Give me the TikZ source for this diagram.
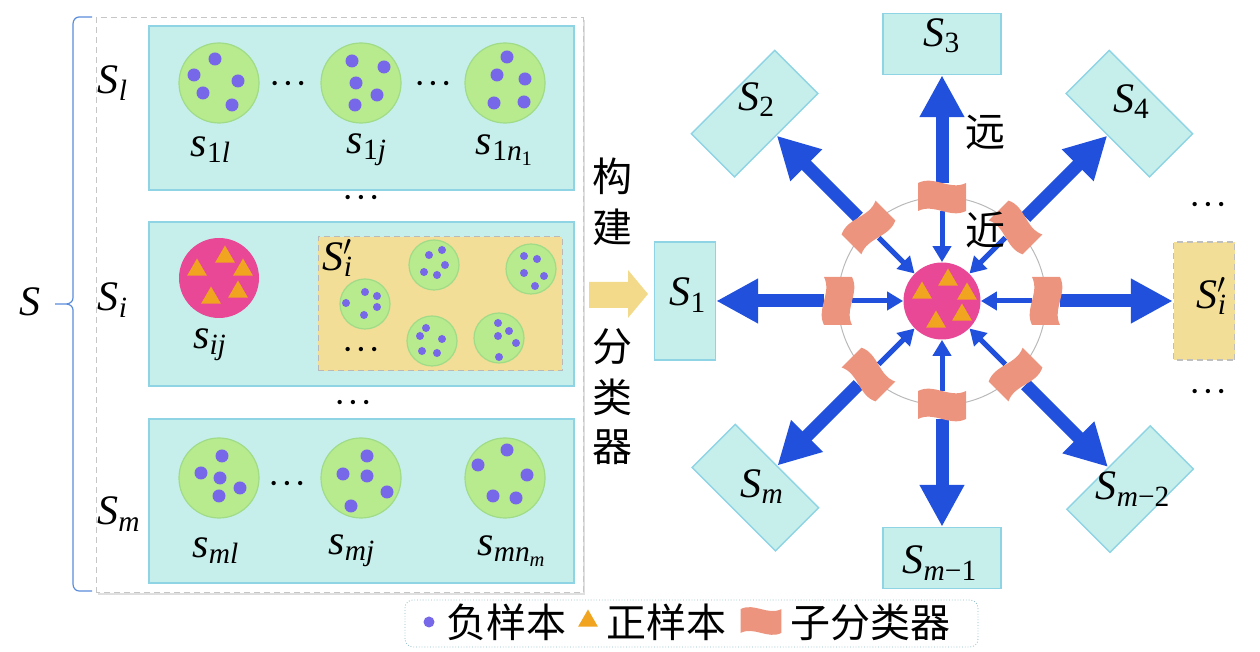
\documentclass[tikz,border=0pt]{standalone}
\usepackage{fontspec}
\setmainfont{Liberation Serif}
\newfontfamily\cjk{Noto Sans CJK SC}
\usetikzlibrary{arrows.meta,shapes.geometric,shadows}

\definecolor{colorisBox}{RGB}{198,239,236}
\definecolor{colorisBoxL}{RGB}{142,212,228}
\definecolor{colorisG}{RGB}{184,234,142}
\definecolor{colorisGL}{RGB}{160,220,136}
\definecolor{colorisN}{RGB}{118,104,232}
\definecolor{colorisP}{RGB}{232,72,150}
\definecolor{colorisT}{RGB}{240,164,32}
\definecolor{colorisY}{RGB}{242,222,150}
\definecolor{colorisC}{RGB}{236,148,126}
\definecolor{colorisA}{RGB}{32,80,220}
\definecolor{colorisBr}{RGB}{90,140,220}
\definecolor{colorisArr}{RGB}{243,217,138}

\newcommand{\sv}[2]{\textit{#1}\textsubscript{#2}}
\newcommand{\svp}[1]{\textit{S}\rlap{$^{\prime}$}\textsubscript{\textit{#1}}}

\begin{document}
\begin{tikzpicture}[x=0.5pt, y=0.5pt,
  grp/.style={draw=colorisBoxL, fill=colorisBox, line width=0.7pt, inner sep=0},
  rbox/.style={grp, minimum width=59pt, minimum height=30.5pt},
  lab/.style={font=\fontsize{21pt}{24pt}\selectfont, inner sep=0},
  han/.style={font=\cjk\fontsize{20pt}{22pt}\selectfont, inner sep=0},
  ell/.style={font=\fontsize{9pt}{9pt}\selectfont, inner sep=0},
  neg/.style={circle, fill=colorisG, draw=colorisGL, line width=0.6pt, minimum size=40pt, inner sep=0},
  negs/.style={neg, minimum size=25pt},
  posg/.style={circle, fill=colorisP, minimum size=40pt, inner sep=0},
  tri/.style={regular polygon, regular polygon sides=3, fill=colorisT, minimum size=11.5pt, inner sep=0},
  subc/.style={minimum width=24pt, minimum height=14pt, inner sep=0},
  outarr/.style={colorisA, line width=6.5pt, -{Triangle[length=21pt, width=21pt]}},
  inarr/.style={colorisA, line width=2.5pt, -{Triangle[length=8pt, width=9pt]}},
  subflag/.pic={\fill[colorisC] (-24,-14) -- (-24,14) .. controls (-8,22) and (8,6) .. (24,14)
      -- (24,-14) .. controls (8,-22) and (-8,-6) .. (-24,-14) -- cycle;},
]
\useasboundingbox (0,0) rectangle (1260,652);
\newcommand{\dts}{•\hspace{3.5pt}•\hspace{3.5pt}•}

%-------------------------------------------------------------
% sample set S
\draw[colorisBr, line width=0.6pt] (92,635) -- (79,635) to[out=180,in=90] (73,628) -- (73,354)
  to[out=270,in=0] (66,348) -- (55,348) (66,348) to[out=0,in=90] (73,342) -- (73,68)
  to[out=270,in=180] (79,61) -- (92,61);
\node[lab] (S) at (30,350) {\textit{S}};

\draw[gray!45, densely dashed, line width=0.5pt, fill=white,
  drop shadow={shadow xshift=1pt, shadow yshift=-1pt, opacity=0.25}] (96,59) rectangle (583,634);
\draw[grp] (149,462) rectangle (574,626);
\draw[grp] (149,266) rectangle (574,430);
\draw[grp] (149,69) rectangle (574,233);

\node[lab] (Sl) at (113,569) {\sv{S}{\textit{l}}};
\node[lab] (Si) at (113,352) {\sv{S}{\textit{i}}};
\node[lab] (Sm) at (119,138) {\sv{S}{\textit{m}}};

%============================================================
% first row
\node[neg] (c1) at (219,569) {};
\node[neg] (c2) at (361,569) {};
\node[neg] (c3) at (505,569) {};
\foreach \dx/\dy in {-4/24,-25/8,19/2,-16/-10,13/-22} \fill[colorisN] (c1) ++(\dx,\dy) circle (6.5);
\foreach \dx/\dy in {-9/22,23/16,-5/0,16/-12,-6/-22} \fill[colorisN] (c2) ++(\dx,\dy) circle (6.5);
\foreach \dx/\dy in {2/26,-8/8,20/4,-11/-20,19/-19} \fill[colorisN] (c3) ++(\dx,\dy) circle (6.5);
\node[ell] at (288,567) {\dts};
\node[ell] at (433,567) {\dts};
\node[lab] at (211,502) {\sv{s}{1\textit{l}}};
\node[lab] at (367,502) {\sv{s}{1\textit{j}}};
\node[lab] at (505,502) {\sv{s}{1\sv{n}{1}}};
\node[ell] at (361,453) {\dts};

%============================================================
% i-th row
\node[posg] (p) at (219,374) {};
\foreach \dx/\dy in {6/21,-22/8,24/8,-8/-20,19/-14} \path (p) ++(\dx,\dy) node[tri] {};
\node[lab] at (210,307) {\sv{s}{\textit{ij}}};

\draw[fill=colorisY, draw=gray!55, densely dashed, line width=0.5pt] (318,281) rectangle (562,415);
\node[lab] at (338,394) {\svp{i}};
\node[negs] (k1) at (434,387) {};
\node[negs] (k2) at (531,383) {};
\node[negs] (k3) at (365,348) {};
\node[negs] (k4) at (432,311) {};
\node[negs] (k5) at (499,314) {};
\foreach \dx/\dy in {-5/10,8/15,11/0,-10/-7,3/-10} \fill[colorisN] (k1) ++(\dx,\dy) circle (4);
\foreach \dx/\dy in {-7/13,6/10,-7/-4,13/-7,4/-17} \fill[colorisN] (k2) ++(\dx,\dy) circle (4);
\foreach \dx/\dy in {0/12,12/8,-19/1,12/-3,-1/-11} \fill[colorisN] (k3) ++(\dx,\dy) circle (4);
\foreach \dx/\dy in {-6/13,-12/5,10/2,-10/-10,5/-12} \fill[colorisN] (k4) ++(\dx,\dy) circle (4);
\foreach \dx/\dy in {-1/15,10/7,-1/2,17/-5,0/-19} \fill[colorisN] (k5) ++(\dx,\dy) circle (4);
\node[ell] at (361,301) {\dts};
\node[ell] at (353,248) {\dts};

%============================================================
% m-th row
\node[neg] (c7) at (219,174) {};
\node[neg] (c8) at (361,174) {};
\node[neg] (c9) at (505,174) {};
\foreach \dx/\dy in {3/22,-18/5,1/0,21/-10,0/-18} \fill[colorisN] (c7) ++(\dx,\dy) circle (6.5);
\foreach \dx/\dy in {6/22,-18/4,6/2,26/-14,-10/-28} \fill[colorisN] (c8) ++(\dx,\dy) circle (6.5);
\foreach \dx/\dy in {2/28,-27/13,22/3,-12/-18,11/-20} \fill[colorisN] (c9) ++(\dx,\dy) circle (6.5);
\node[ell] at (287,167) {\dts};
\node[lab] at (216,101) {\sv{s}{\textit{ml}}};
\node[lab] at (352,101) {\sv{s}{\textit{mj}}};
\node[lab] at (512,101) {\sv{s}{\sv{mn}{\textit{m}}}};

%============================================================
% build classifier
\node[han] (g1) at (612,476) {构};
\node[han] (g2) at (612,425) {建};
\fill[colorisArr] (589,344) -- (628,344) -- (628,334) -- (648,358) -- (628,382) -- (628,370)
  -- (589,370) -- cycle;
\node[han] (g3) at (612,305) {分};
\node[han] (g4) at (612,255) {类};
\node[han] (g5) at (612,205) {器};

%============================================================
% classifier
\begin{scope}[shift={(942,351)}]
\draw[gray!55, line width=0.5pt] (0,0) circle (104);
\node[posg, minimum size=38.5pt] (ctr) at (0,0) {};
\foreach \dx/\dy in {6/21,-20/8,25/7,-6/-21,20/-14} \path (ctr) ++(\dx,\dy) node[tri] {};

\foreach \a/\r/\txt/\dx/\dy in {90/257/{\sv{S}{3}}/0/8, 135/265/{\sv{S}{2}}/2/14,
    180/257/{\sv{S}{1}}/3/6, 225/264/{\sv{S}{\textit{m}}}/7/1,
    270/257/{\sv{S}{\textit{m}−1}}/-2/-5, 315/266/{\sv{S}{\textit{m}−2}}/3/0,
    45/265/{\sv{S}{4}}/2/12}
{
  \node[rbox, rotate=\a-90] (b\a) at (\a:\r) {};
  \path (b\a) ++(\dx,\dy) node[lab] {\txt};
}
\node[rbox, fill=colorisY, draw=gray!50, densely dashed, rotate=-90] (b0) at (0:262) {};
\path (b0) ++(8,5) node[lab] {\svp{i}};

\foreach \a in {0,45,...,315}
  \node[subc, rotate=\a-90] (f\a) at (\a:104) {};
\foreach \a in {0,45,...,315}
{
  \draw[outarr] (f\a) -- (b\a.south);
  \draw[inarr] (f\a) -- (ctr);
}
\foreach \a in {0,45,...,315}
  \pic[rotate=\a-90] at (\a:104) {subflag};

\node[han] (far) at (43,169) {远};
\node[han] (nea) at (43,71) {近};
\node[ell] at (266,95) {\dts};
\node[ell] at (266,-92) {\dts};
\end{scope}

%============================================================
% legend
\draw[colorisBoxL!70!gray, densely dotted, rounded corners=4pt, fill=white] (405,5) rectangle (978,52);
\node[circle, fill=colorisN, minimum size=5.5pt, inner sep=0] (lgn) at (429,30) {};
\node[han] at (506,30) {负样本};
\node[tri] (lgp) at (588,31) {};
\node[han] at (666,30) {正样本};
\pic[scale=0.85] at (761,31) {subflag};
\node[han] at (870,30) {子分类器};

\end{tikzpicture}
\end{document}
